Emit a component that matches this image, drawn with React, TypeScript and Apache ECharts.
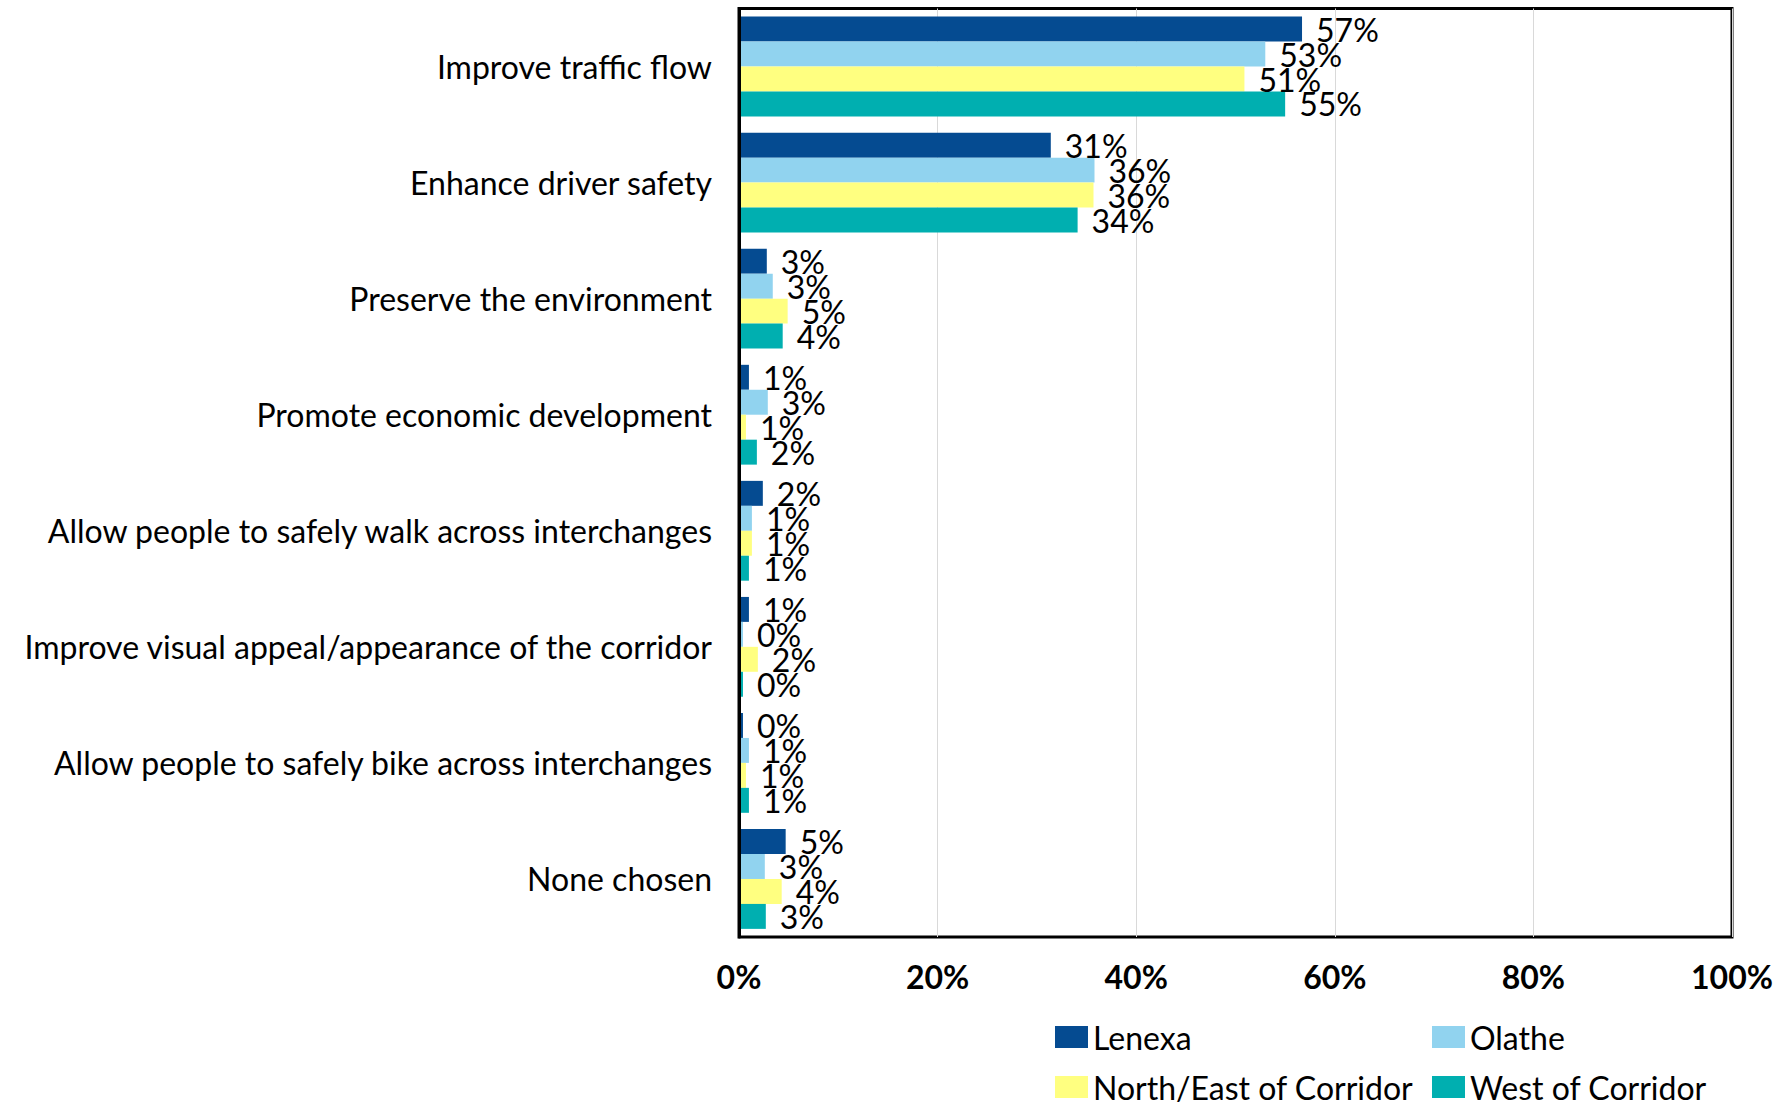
import React, { useEffect, useRef } from "react";
import * as echarts from "echarts";

const categories = [
  "Improve traffic flow",
  "Enhance driver safety",
  "Preserve the environment",
  "Promote economic development",
  "Allow people to safely walk across interchanges",
  "Improve visual appeal/appearance of the corridor",
  "Allow people to safely bike across interchanges",
  "None chosen",
];

const seriesNames = ["Lenexa", "Olathe", "North/East of Corridor", "West of Corridor"];

const lenexa = [56.7, 31.4, 2.8, 1.0, 2.4, 1.0, 0.4, 4.7];
const olathe = [53.0, 35.8, 3.4, 2.9, 1.3, 0.4, 1.0, 2.6];
const northEast = [50.9, 35.7, 4.9, 0.7, 1.3, 1.9, 0.7, 4.3];
const westOfCorridor = [55.0, 34.1, 4.4, 1.8, 1.0, 0.4, 1.0, 2.7];

const xTicks = [0, 20, 40, 60, 80, 100];

const colors = ["#054B91", "#91D3EF", "#FFFF80", "#00AFB0"];

const FONT = "Lato";
const FS = 32;

export default function App() {
  const ref = useRef<HTMLDivElement>(null);

  useEffect(() => {
    if (!ref.current) return;
    const chart = echarts.init(ref.current, undefined, { renderer: "svg" });
    const values = [lenexa, olathe, northEast, westOfCorridor];

    const legendPos = [
      { left: 1055, top: 1021 },
      { left: 1432, top: 1021 },
      { left: 1055, top: 1071 },
      { left: 1432, top: 1071 },
    ];

    chart.setOption({
      animation: false,
      backgroundColor: "#fff",
      textStyle: { fontFamily: FONT },
      grid: {
        left: 739,
        right: 52,
        top: 8.5,
        bottom: 166,
        show: true,
        borderColor: "#000",
        borderWidth: 3,
        backgroundColor: "transparent",
      },
      legend: seriesNames.map((n, i) => ({
        data: [n],
        left: legendPos[i].left,
        top: legendPos[i].top,
        padding: 0,
        itemWidth: 33,
        itemHeight: 22,
        icon: "rect",
        selectedMode: false,
        textStyle: { fontFamily: FONT, fontSize: FS, color: "#000", lineHeight: 22 },
      })),
      xAxis: {
        type: "value",
        min: xTicks[0],
        max: xTicks[xTicks.length - 1],
        interval: 20,
        axisLine: { show: false },
        axisTick: { show: false },
        splitLine: { show: true, lineStyle: { color: "#D9D9D9", width: 1 } },
        axisLabel: {
          formatter: (v: number) => `${v}%`,
          fontFamily: FONT,
          fontSize: FS,
          fontWeight: "bold",
          color: "#000",
          margin: 23,
        },
      },
      yAxis: {
        type: "category",
        data: categories,
        inverse: true,
        z: 10,
        axisLine: { show: true, lineStyle: { color: "#000", width: 3 } },
        axisTick: { show: false },
        axisLabel: {
          fontFamily: FONT,
          fontSize: FS,
          color: "#000",
          margin: 27,
        },
      },
      series: seriesNames.map((n, i) => ({
        name: n,
        type: "bar",
        data: values[i],
        barGap: "0%",
        barCategoryGap: "14%",
        itemStyle: { color: colors[i] },
        label: {
          show: true,
          position: "right",
          distance: 14,
          fontFamily: FONT,
          fontSize: FS,
          lineHeight: 26,
          color: "#000",
          formatter: (p: any) => `${Math.round(p.value)}%`,
        },
      })),
    });

    return () => chart.dispose();
  }, []);

  return (
    <div
      ref={ref}
      style={{ position: "fixed", left: 0, top: 0, width: 1784, height: 1103 }}
    />
  );
}
